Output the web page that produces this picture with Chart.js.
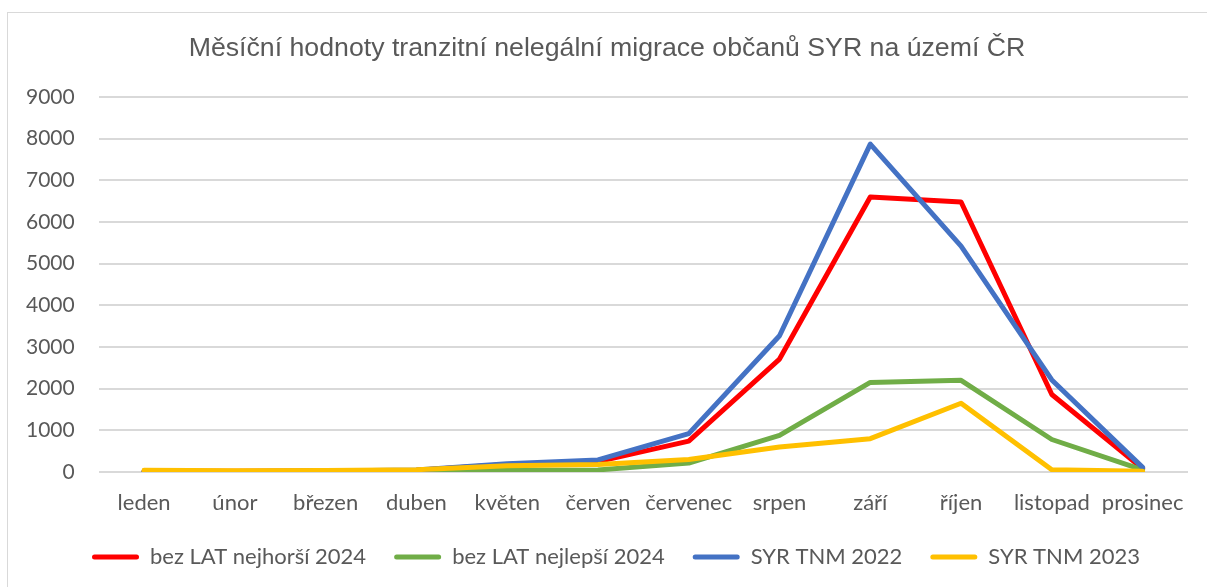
<!DOCTYPE html>
<html>
<head>
<meta charset="utf-8">
<script src="https://cdn.jsdelivr.net/npm/chart.js@4/dist/chart.umd.min.js"></script>
<style>
  html, body { margin: 0; padding: 0; background: #fff; }
  #frame { position: absolute; left: 7px; top: 12px; width: 1220px; height: 600px; border: 1px solid #d9d9d9; box-sizing: border-box; }
  #wrap { position: absolute; left: 0; top: 0; width: 1207px; height: 587px; }
</style>
</head>
<body>
<div id="frame"></div>
<div id="wrap"><canvas id="c" width="1207" height="587"></canvas></div>
<script>
const months = ["leden", "únor", "březen", "duben", "květen", "červen", "červenec", "srpen", "září", "říjen", "listopad", "prosinec"];
const seriesNames = ["bez LAT nejhorší 2024", "bez LAT nejlepší 2024", "SYR TNM 2022", "SYR TNM 2023"];
const worst2024 = [20, 20, 25, 45, 180, 250, 740, 2710, 6600, 6480, 1860, 80];
const best2024 = [10, 10, 15, 20, 40, 50, 215, 880, 2150, 2200, 780, 50];
const tnm2022 = [20, 15, 25, 50, 200, 290, 920, 3270, 7870, 5420, 2210, 110];
const tnm2023 = [40, 30, 35, 55, 150, 180, 300, 600, 800, 1650, 55, 20];
const yTicks = [0, 1000, 2000, 3000, 4000, 5000, 6000, 7000, 8000, 9000];

const colors = ["#FF0000", "#70AD47", "#4472C4", "#FFC000"];
const values = [worst2024, best2024, tnm2022, tnm2023];
const textColor = "#595959";

const datasets = values.map((v, i) => ({
  label: seriesNames[i],
  data: v,
  borderColor: colors[i],
  backgroundColor: colors[i],
  borderWidth: 5,
  pointRadius: 0,
  tension: 0,
  borderCapStyle: "round",
  borderJoinStyle: "round",
  order: 3 - i
}));

const legendShift = {
  id: "legendShift",
  afterLayout(chart) {
    if (chart.legend) { chart.legend.left += 9; chart.legend.right += 9; }
  }
};

new Chart(document.getElementById("c"), {
  type: "line",
  data: { labels: months, datasets },
  plugins: [legendShift],
  options: {
    responsive: false,
    animation: false,
    layout: { padding: { left: 26, right: 19, top: 20, bottom: 9 } },
    plugins: {
      tooltip: { enabled: false },
      title: {
        display: true,
        text: "Měsíční hodnoty tranzitní nelegální migrace občanů SYR na území ČR",
        color: textColor,
        font: { family: "Liberation Sans", size: 26.7, weight: "normal" },
        padding: { top: 13, bottom: 32 }
      },
      legend: {
        position: "bottom",
        labels: {
          color: textColor,
          font: { family: "Lato", size: 22 },
          boxWidth: 47,
          boxHeight: 5,
          padding: 28,
          sort: (a, b) => a.datasetIndex - b.datasetIndex,
          generateLabels: (chart) => chart.data.datasets.map((ds, i) => ({
            text: ds.label,
            fillStyle: ds.borderColor,
            strokeStyle: ds.borderColor,
            lineWidth: 0,
            borderRadius: 2.5,
            fontColor: textColor,
            hidden: false,
            datasetIndex: i
          }))
        }
      }
    },
    scales: {
      x: {
        offset: true,
        grid: { display: false, drawTicks: false },
        border: { display: false },
        ticks: { color: textColor, font: { family: "Lato", size: 22 }, padding: 18, maxRotation: 0, autoSkip: false },
        afterFit: (s) => { s.height = 46; }
      },
      y: {
        min: 0,
        max: 9000,
        afterBuildTicks: (scale) => { scale.ticks = yTicks.map(v => ({ value: v })); },
        grid: { color: "#d9d9d9", lineWidth: 2, drawTicks: false },
        border: { display: false },
        ticks: { color: textColor, font: { family: "Lato", size: 21 }, padding: 24, callback: (v) => String(v) },
        afterFit: (s) => { s.width -= 24; }
      }
    }
  }
});
</script>
</body>
</html>
